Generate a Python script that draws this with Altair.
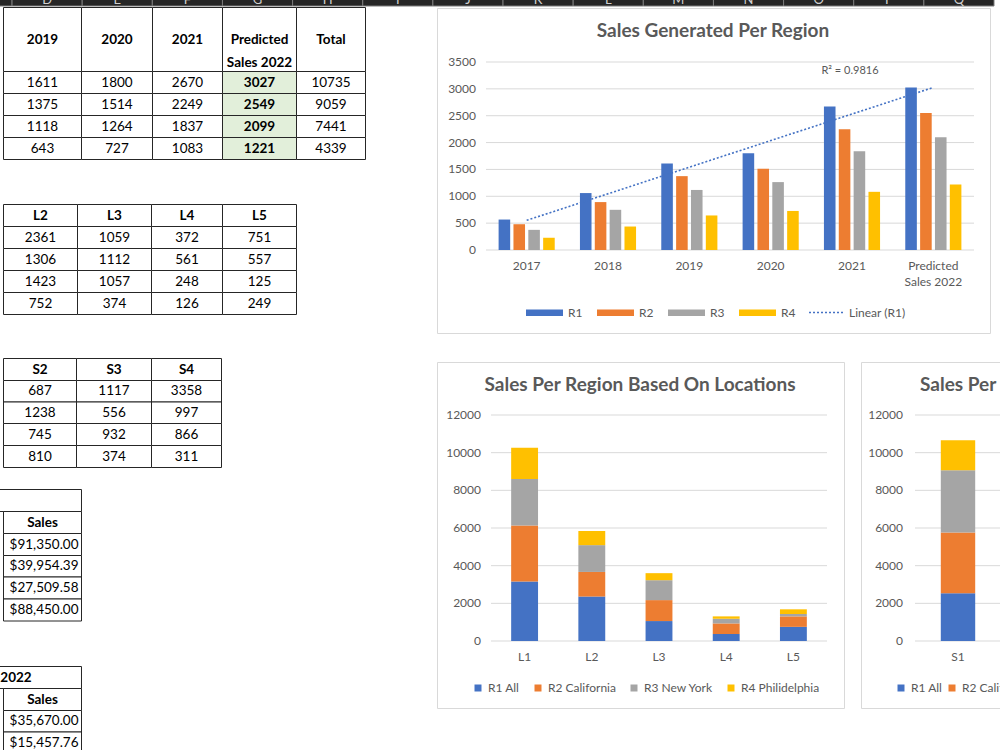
import altair as alt
import pandas as pd

FONT = "Lato"
INK = "#595959"
GRID = "#d9d9d9"
FRAME = "#d9d9d9"
BORDER = "#262626"
PALETTE = ["#4472C4", "#ED7D31", "#A5A5A5", "#FFC000"]
PREDICTED_FILL = "#E2EFDA"
TITLE_SIZE = 19

# Sheet column letters along the header strip
COLUMN_LETTERS = ["C", "D", "E", "F", "G", "H", "I", "J", "K", "L", "M", "N", "O", "P", "Q"]

# Yearly sales per region
YEARS = ["2017", "2018", "2019", "2020", "2021", "Predicted Sales 2022"]
REGIONS = ["R1", "R2", "R3", "R4"]
R1_SALES = [567, 1060, 1611, 1800, 2670, 3027]
R2_SALES = [480, 892, 1375, 1514, 2249, 2549]
R3_SALES = [375, 748, 1118, 1264, 1837, 2099]
R4_SALES = [228, 437, 643, 727, 1083, 1221]
R_SQUARED_LABEL = "R² = 0.9816"
YEAR_TICKS = [0, 500, 1000, 1500, 2000, 2500, 3000, 3500]

# Sales per region by location
LOCATIONS = ["L1", "L2", "L3", "L4", "L5"]
LOCATION_REGIONS = ["R1 All", "R2 California", "R3 New York", "R4 Philidelphia"]
LOC_R1 = [3160, 2361, 1059, 372, 751]
LOC_R2 = [2970, 1306, 1112, 561, 557]
LOC_R3 = [2470, 1423, 1057, 248, 125]
LOC_R4 = [1660, 752, 374, 126, 249]

# Sales per region by store
STORES = ["S1", "S2", "S3", "S4"]
STORE_R1 = [2530, 687, 1117, 3358]
STORE_R2 = [3230, 1238, 556, 997]
STORE_R3 = [3300, 745, 932, 866]
STORE_R4 = [1600, 810, 374, 311]
STACK_TICKS = [0, 2000, 4000, 6000, 8000, 10000, 12000]

# Sales blocks at the bottom of the sheet
SALES_BLOCK = [91350.00, 39954.39, 27509.58, 88450.00]
SALES_2022_BLOCK = [35670.00, 15457.76]

TITLE_YEARS = "Sales Generated Per Region"
TITLE_LOCATIONS = "Sales Per Region Based On Locations"
TITLE_STORES = "Sales Per Region Based On Stores"

ONE = pd.DataFrame({"k": [0]})
layers = []


# ---------- helpers ----------
def cell(c0, c1, r0, r1, text, weight="normal", align="center", fill="white"):
    return {"c0": c0, "c1": c1, "r0": r0, "r1": r1, "text": text,
            "weight": weight, "align": align, "fill": fill}


def table_layers(cells, x_domain, x_edges, y_edges):
    df = pd.DataFrame(cells)
    df["cm"] = (df.c0 + df.c1) / 2
    df["rm"] = (df.r0 + df.r1) / 2
    xs = alt.Scale(domain=x_domain, range=x_edges, nice=False, zero=False)
    ys = alt.Scale(domain=list(range(len(y_edges))), range=y_edges, nice=False, zero=False)
    out = [alt.Chart(df).mark_rect(stroke=BORDER, strokeWidth=1).encode(
        x=alt.X("c0:Q", scale=xs, axis=None), x2="c1",
        y=alt.Y("r0:Q", scale=ys, axis=None), y2="r1",
        fill=alt.Fill("fill:N", scale=None))]
    for (align, weight), sub in df[df.text != ""].groupby(["align", "weight"]):
        xfield = {"center": "cm", "right": "c1", "left": "c0"}[align]
        dx = {"center": 0, "right": -3, "left": 3}[align]
        out.append(alt.Chart(sub).mark_text(
            font=FONT, fontSize=13.5, fontWeight=weight, align=align, baseline="middle",
            dx=dx, lineBreak="\n", lineHeight=23, color="#000000").encode(
            x=alt.X(f"{xfield}:Q", scale=xs, axis=None),
            y=alt.Y("rm:Q", scale=ys, axis=None), text="text:N"))
    return out


def frame(x0, x1, y0, y1):
    return alt.Chart(ONE).mark_rect(fill="white", stroke=FRAME, strokeWidth=1).encode(
        x=alt.value(x0), x2=alt.value(x1), y=alt.value(y0), y2=alt.value(y1))


def label(text, x, y, size, weight="normal", align="center"):
    return alt.Chart(pd.DataFrame({"t": [text]})).mark_text(
        font=FONT, fontSize=size, fontWeight=weight, color=INK, align=align,
        baseline="middle").encode(x=alt.value(x), y=alt.value(y), text="t:N")


def gridlines(ticks, yscale, x0, x1):
    return alt.Chart(pd.DataFrame({"v": ticks})).mark_rule(color=GRID, strokeWidth=1).encode(
        y=alt.Y("v:Q", scale=yscale, axis=None), x=alt.value(x0), x2=alt.value(x1))


def value_labels(ticks, yscale, x_right):
    # value-axis labels placed through the value scale
    return alt.Chart(pd.DataFrame({"v": [str(t) for t in ticks], "p": ticks})).mark_text(
        font=FONT, fontSize=12, color=INK, align="right", baseline="middle").encode(
        y=alt.Y("p:Q", scale=yscale, axis=None), x=alt.value(x_right), text="v:N")


def category_labels(cats, xscale, y_top):
    # category-axis labels placed through the band scale
    df = pd.DataFrame({"cat": cats, "lab": [c.replace("Predicted ", "Predicted\n") for c in cats]})
    return alt.Chart(df).mark_text(
        font=FONT, fontSize=12, color=INK, align="center", baseline="top",
        lineBreak="\n", lineHeight=16).encode(
        x=alt.X("cat:N", sort=cats, scale=xscale, axis=None, bandPosition=0.5),
        y=alt.value(y_top), text="lab:N")


def legend(x, y, symbol_type, size, pad, columns, **kw):
    return alt.Legend(title=None, orient="none", legendX=x, legendY=y, direction="horizontal",
                      columns=columns, symbolType=symbol_type, symbolSize=size,
                      labelFont=FONT, labelFontSize=12, labelColor=INK, labelOffset=4,
                      columnPadding=pad, **kw)


# ---------- header strip ----------
strip_df = pd.DataFrame({"col": COLUMN_LETTERS})
strip_x = alt.Scale(domain=COLUMN_LETTERS, range=[-58.1, 994], paddingInner=0, paddingOuter=0)
layers.append(alt.Chart(strip_df).mark_rect(fill="#262626", stroke="#7a7a7a", strokeWidth=1).encode(
    x=alt.X("col:N", sort=COLUMN_LETTERS, scale=strip_x, axis=None),
    y=alt.value(-2), y2=alt.value(6)))
layers.append(alt.Chart(strip_df).mark_text(font=FONT, fontSize=13, color="#d0d0d0",
                                            baseline="alphabetic").encode(
    x=alt.X("col:N", sort=COLUMN_LETTERS, scale=strip_x, axis=None, bandPosition=0.5),
    y=alt.value(3.5), text="col:N"))

# ---------- table: yearly sales ----------
REGION_SALES = [R1_SALES, R2_SALES, R3_SALES, R4_SALES]
t1_headers = YEARS[2:] + ["Total"]
t1 = []
for c, h in enumerate(t1_headers):
    t1.append(cell(c, c + 1, 0, 1, h.replace("Predicted ", "Predicted\n"), "bold"))
for r, series in enumerate(REGION_SALES, start=1):
    values = series[2:] + [sum(series)]
    for c, v in enumerate(values):
        pred = c == 3
        t1.append(cell(c, c + 1, r, r + 1, str(v), "bold" if pred else "normal",
                       fill=PREDICTED_FILL if pred else "white"))
layers += table_layers(t1, [0, 1, 2, 3, 4, 5], [3.5, 81.5, 152.5, 222.5, 296.5, 365.5],
                       [7.5, 71.5, 93.5, 115.5, 137.5, 159.5])

# ---------- table: locations ----------
LOC_SERIES = [LOC_R1, LOC_R2, LOC_R3, LOC_R4]
t2 = [cell(c, c + 1, 0, 1, h, "bold") for c, h in enumerate(LOCATIONS[1:])]
for r, series in enumerate(LOC_SERIES, start=1):
    for c, v in enumerate(series[1:]):
        t2.append(cell(c, c + 1, r, r + 1, str(v)))
layers += table_layers(t2, [0, 1, 2, 3, 4], [3.5, 77.5, 151.5, 222.5, 296.5],
                       [204.5, 226.5, 248.5, 270.5, 292.5, 314.5])

# ---------- table: stores ----------
STORE_SERIES = [STORE_R1, STORE_R2, STORE_R3, STORE_R4]
t3 = [cell(c, c + 1, 0, 1, h, "bold") for c, h in enumerate(STORES[1:])]
for r, series in enumerate(STORE_SERIES, start=1):
    for c, v in enumerate(series[1:]):
        t3.append(cell(c, c + 1, r, r + 1, str(v)))
layers += table_layers(t3, [0, 1, 2, 3], [3.5, 76.5, 151.5, 221.5],
                       [358.5, 380.5, 402.0, 423.5, 445.5, 467.5])

# ---------- table: sales block (title row merged with the column to its left) ----------
t4 = [cell(-0.68, 1, 0, 1, ""), cell(0, 1, 1, 2, "Sales", "bold")]
for r, v in enumerate(SALES_BLOCK, start=2):
    t4.append(cell(0, 1, r, r + 1, f"${v:,.2f}", align="right"))
layers += table_layers(t4, [0, 1], [3.5, 81.5],
                       [489.5, 511.5, 533.5, 555.5, 577.0, 599.0, 621.0])

# ---------- table: 2022 sales block ----------
t5 = [cell(-0.68, 1, 0, 1, "2022", "bold"), cell(0, 1, 1, 2, "Sales", "bold")]
for r, v in enumerate(SALES_2022_BLOCK, start=2):
    t5.append(cell(0, 1, r, r + 1, f"${v:,.2f}", align="right"))
layers += table_layers(t5, [0, 1], [3.5, 81.5],
                       [666.5, 688.5, 710.5, 732.0, 754.0])

# ---------- chart: sales generated per region ----------
layers.append(frame(437.5, 990.5, 8.5, 333.5))
layers.append(label(TITLE_YEARS, 713, 31, TITLE_SIZE, "bold"))
y_years = alt.Scale(domain=[0, 3500], range=[250, 62], nice=False, zero=True)
x_years = alt.Scale(domain=YEARS, range=[486, 974], paddingInner=0.31, paddingOuter=0.155)
layers.append(gridlines(YEAR_TICKS, y_years, 486, 974))
layers.append(value_labels(YEAR_TICKS, y_years, 476))
layers.append(category_labels(YEARS, x_years, 261))

year_rows = []
for reg, series in zip(REGIONS, REGION_SALES):
    for yr, v in zip(YEARS, series):
        year_rows.append({"year": yr, "region": reg, "sales": v})
layers.append(alt.Chart(pd.DataFrame(year_rows)).mark_bar().encode(
    x=alt.X("year:N", sort=YEARS, scale=x_years, axis=None),
    xOffset=alt.XOffset("region:N", sort=REGIONS,
                        scale=alt.Scale(domain=REGIONS, paddingInner=0.22, paddingOuter=0)),
    y=alt.Y("sales:Q", scale=y_years, axis=None),
    color=alt.Color("region:N", sort=REGIONS, scale=alt.Scale(domain=REGIONS, range=PALETTE),
                    legend=legend(525, 293, "M-1,-0.18L1,-0.18L1,0.18L-1,0.18Z", 1369, 13, 4))))

# linear trend of R1, fitted by the regression transform
trend_df = pd.DataFrame({"idx": list(range(1, len(YEARS) + 1)), "sales": R1_SALES})
layers.append(alt.Chart(trend_df).transform_regression("idx", "sales", method="linear")
              .transform_calculate(name="'Linear (R1)'")
              .mark_line(strokeDash=[2, 2], strokeWidth=1.6).encode(
    x=alt.X("idx:Q", scale=alt.Scale(domain=[0.5, len(YEARS) + 0.5], range=[486, 974],
                                     nice=False, zero=False), axis=None),
    y=alt.Y("sales:Q", scale=y_years, axis=None),
    color=alt.Color("name:N", scale=alt.Scale(domain=["Linear (R1)"], range=[PALETTE[0]]),
                    legend=legend(808, 294, "stroke", 1225, 13, 1, symbolDash=[2, 2],
                                  symbolStrokeWidth=1.5))))
layers.append(label(R_SQUARED_LABEL, 850, 71, 11))


# ---------- stacked charts ----------
def stacked(cats, series_list, x_range, label_right, legend_x, legend_pad):
    rows = []
    for k, (reg, vals) in enumerate(zip(LOCATION_REGIONS, series_list)):
        for cat, v in zip(cats, vals):
            rows.append({"cat": cat, "region": reg, "k": k, "sales": v})
    ys = alt.Scale(domain=[0, 12000], range=[641, 415], nice=False, zero=True)
    xs = alt.Scale(domain=cats, range=x_range, paddingInner=0.6, paddingOuter=0.3)
    return [
        gridlines(STACK_TICKS, ys, x_range[0], x_range[1]),
        value_labels(STACK_TICKS, ys, label_right),
        category_labels(cats, xs, 652),
        alt.Chart(pd.DataFrame(rows)).mark_bar().encode(
            x=alt.X("cat:N", sort=cats, scale=xs, axis=None),
            y=alt.Y("sales:Q", stack="zero", scale=ys, axis=None),
            color=alt.Color("region:N", sort=LOCATION_REGIONS,
                            scale=alt.Scale(domain=LOCATION_REGIONS, range=PALETTE),
                            legend=legend(legend_x, 682, "square", 49, legend_pad, 4)),
            order=alt.Order("k:Q")),
    ]


layers.append(frame(437.5, 844.5, 362.5, 708.5))
layers.append(label(TITLE_LOCATIONS, 640, 385, TITLE_SIZE, "bold"))
layers += stacked(LOCATIONS, LOC_SERIES, [491, 827], 481, 472, 12)

layers.append(frame(861.5, 1269.5, 362.5, 708.5))
layers.append(label(TITLE_STORES, 920, 385, TITLE_SIZE, "bold", align="left"))
layers += stacked(STORES, STORE_SERIES, [915, 1259], 903, 895, 3)

chart = alt.layer(*layers).resolve_scale(
    x="independent", y="independent", color="independent", fill="independent"
).properties(
    width=1000, height=750, padding=0, background="white",
    autosize=alt.AutoSizeParams(type="none"),
).configure_view(strokeWidth=0)

chart.save("out.html", embed_options={"renderer": "svg", "actions": False})
